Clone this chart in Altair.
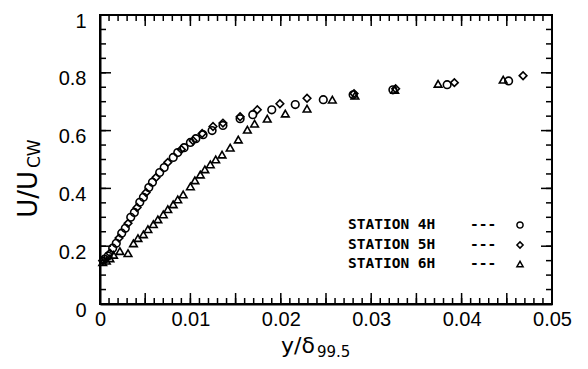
import altair as alt
import pandas as pd

# ---- data ----
x_4h = [0.0005, 0.0009, 0.0014, 0.0018, 0.0024, 0.0028, 0.0034, 0.0038, 0.0044, 0.0048,
        0.0054, 0.0058, 0.0066, 0.0071, 0.0081, 0.0086, 0.0093, 0.0100, 0.0106, 0.0114,
        0.0124, 0.0136, 0.0155, 0.0169, 0.0190, 0.0216, 0.0247, 0.0280, 0.0324, 0.0384, 0.0452]
y_4h = [0.155, 0.166, 0.193, 0.210, 0.245, 0.262, 0.300, 0.317, 0.352, 0.369,
        0.403, 0.421, 0.455, 0.472, 0.507, 0.524, 0.541, 0.559, 0.572, 0.586,
        0.600, 0.618, 0.641, 0.655, 0.672, 0.690, 0.707, 0.724, 0.741, 0.759, 0.772]

x_5h = [0.0003, 0.0011, 0.0021, 0.0031, 0.0041, 0.0051, 0.0062, 0.0075, 0.0090, 0.0103,
        0.0113, 0.0125, 0.0136, 0.0155, 0.0174, 0.0199, 0.0229, 0.0281, 0.0327, 0.0392, 0.0468]
y_5h = [0.150, 0.176, 0.228, 0.279, 0.334, 0.386, 0.438, 0.490, 0.535, 0.565,
        0.590, 0.614, 0.626, 0.648, 0.672, 0.693, 0.712, 0.728, 0.745, 0.766, 0.790]

x_6h = [0.0003, 0.0007, 0.0011, 0.0015, 0.0022, 0.0031, 0.0037, 0.0042, 0.0048, 0.0053,
        0.0059, 0.0064, 0.0070, 0.0075, 0.0081, 0.0086, 0.0092, 0.0100, 0.0105, 0.0111,
        0.0116, 0.0122, 0.0128, 0.0135, 0.0144, 0.0153, 0.0163, 0.0171, 0.0185, 0.0205,
        0.0229, 0.0257, 0.0282, 0.0326, 0.0374, 0.0446]
y_6h = [0.145, 0.150, 0.158, 0.170, 0.183, 0.176, 0.210, 0.228, 0.241, 0.259,
        0.276, 0.293, 0.310, 0.328, 0.345, 0.362, 0.379, 0.407, 0.428, 0.448,
        0.466, 0.483, 0.500, 0.517, 0.541, 0.569, 0.603, 0.624, 0.641, 0.659,
        0.676, 0.707, 0.721, 0.741, 0.762, 0.776]

stations = ["STATION 4H", "STATION 5H", "STATION 6H"]
shapes = ["circle", "diamond", "triangle-up"]

x_ticks = [0, 0.01, 0.02, 0.03, 0.04, 0.05]
y_ticks = [0, 0.2, 0.4, 0.6, 0.8, 1.0]
x_minor = [i / 1000 for i in range(1, 50)]
x_major = [i * 0.005 for i in range(1, 10)]
y_minor = [i * 0.05 for i in range(1, 20)]
y_major = [0.2, 0.4, 0.6, 0.8]

W, H = 452, 289

xscale = alt.Scale(domain=[0, 0.05], nice=False, zero=False)
yscale = alt.Scale(domain=[0, 1], nice=False, zero=False)

FONT = "Liberation Sans"
TFONT = "DejaVu Sans"
one = pd.DataFrame({"a": [0]})


def xaxis():
    return alt.Axis(values=x_ticks, format=".2~f", title=None, grid=False, ticks=False,
                    domain=True, domainColor="black", domainWidth=2,
                    labelFontSize=20, labelFont=FONT, labelColor="black",
                    labelPadding=5, labelFlush=False)


def yaxis():
    return alt.Axis(values=y_ticks, format=".1~f", title=None, grid=False, ticks=False,
                    domain=True, domainColor="black", domainWidth=2,
                    labelFontSize=20, labelFont=FONT, labelColor="black",
                    labelPadding=14, labelFlush=False, labelOffset=6)


# one layer of open symbols per station (shape given on the mark, no shape scale)
series = []
for xs, ys, shp in zip([x_4h, x_5h, x_6h], [y_4h, y_5h, y_6h], shapes):
    series.append(
        alt.Chart(pd.DataFrame({"x": xs, "y": ys})).mark_point(
            shape=shp, filled=False, stroke="black", strokeWidth=1.6, size=58, opacity=1).encode(
            x=alt.X("x:Q", scale=xscale, axis=xaxis()),
            y=alt.Y("y:Q", scale=yscale, axis=yaxis()))
    )

# inward ticks on all four sides, placed through the scales
def xrule(vals, y1, y2):
    return alt.Chart(pd.DataFrame({"v": vals})).mark_rule(color="black", strokeWidth=1.5).encode(
        x=alt.X("v:Q", scale=xscale, axis=xaxis()), y=alt.value(y1), y2=alt.value(y2))


def yrule(vals, x1, x2):
    return alt.Chart(pd.DataFrame({"w": vals})).mark_rule(color="black", strokeWidth=1.5).encode(
        y=alt.Y("w:Q", scale=yscale, axis=yaxis()), x=alt.value(x1), x2=alt.value(x2))


ticks = [
    xrule(x_minor, 0, 6), xrule(x_major, 0, 11),
    xrule(x_minor, H, H - 6), xrule(x_major, H, H - 11),
    yrule(y_minor, 0, 6), yrule(y_major, 0, 11),
    yrule(y_minor, W, W - 6), yrule(y_major, W, W - 11),
]

frame = alt.Chart(one).mark_rect(fillOpacity=0, stroke="black", strokeWidth=2).encode(
    x=alt.value(0), x2=alt.value(W), y=alt.value(0), y2=alt.value(H))


def txt(s, x, y, size, align="left", angle=0, font=FONT, weight="normal", baseline="alphabetic"):
    return alt.Chart(one).mark_text(text=s, fontSize=size, font=font, fontWeight=weight,
                                    align=align, baseline=baseline, angle=angle, color="black").encode(
        x=alt.value(x), y=alt.value(y))


titles = [
    txt("y/δ", 215, 338, 22, align="right", font=TFONT),
    txt("99.5", 217, 342, 15, align="left", font=TFONT),
    txt("U/U", -63, 156, 26, align="right", angle=270, font=TFONT),
    txt("CW", -60, 153, 17, align="left", angle=270, font=TFONT),
]

legend = []
leg_y = [210, 230, 249]
for st, shp, yy in zip(stations, shapes, leg_y):
    legend.append(txt(st, 248, yy, 14.5, font="DejaVu Sans Mono", weight="bold", baseline="middle"))
    legend.append(txt("---", 370, yy, 14.5, font="DejaVu Sans Mono", weight="bold", baseline="middle"))
    legend.append(alt.Chart(one).mark_point(shape=shp, filled=False, stroke="black", strokeWidth=1.5,
                                            size=38, opacity=1).encode(x=alt.value(420), y=alt.value(yy)))

chart = alt.layer(*series, *ticks, frame, *legend, *titles).properties(
    width=W, height=H,
    autosize=alt.AutoSizeParams(type="none"),
    padding={"left": 92, "top": 7, "right": 28, "bottom": 57},
).configure_view(stroke="black", strokeWidth=2)

chart.save("out.html", embed_options={"renderer": "svg", "actions": False})
